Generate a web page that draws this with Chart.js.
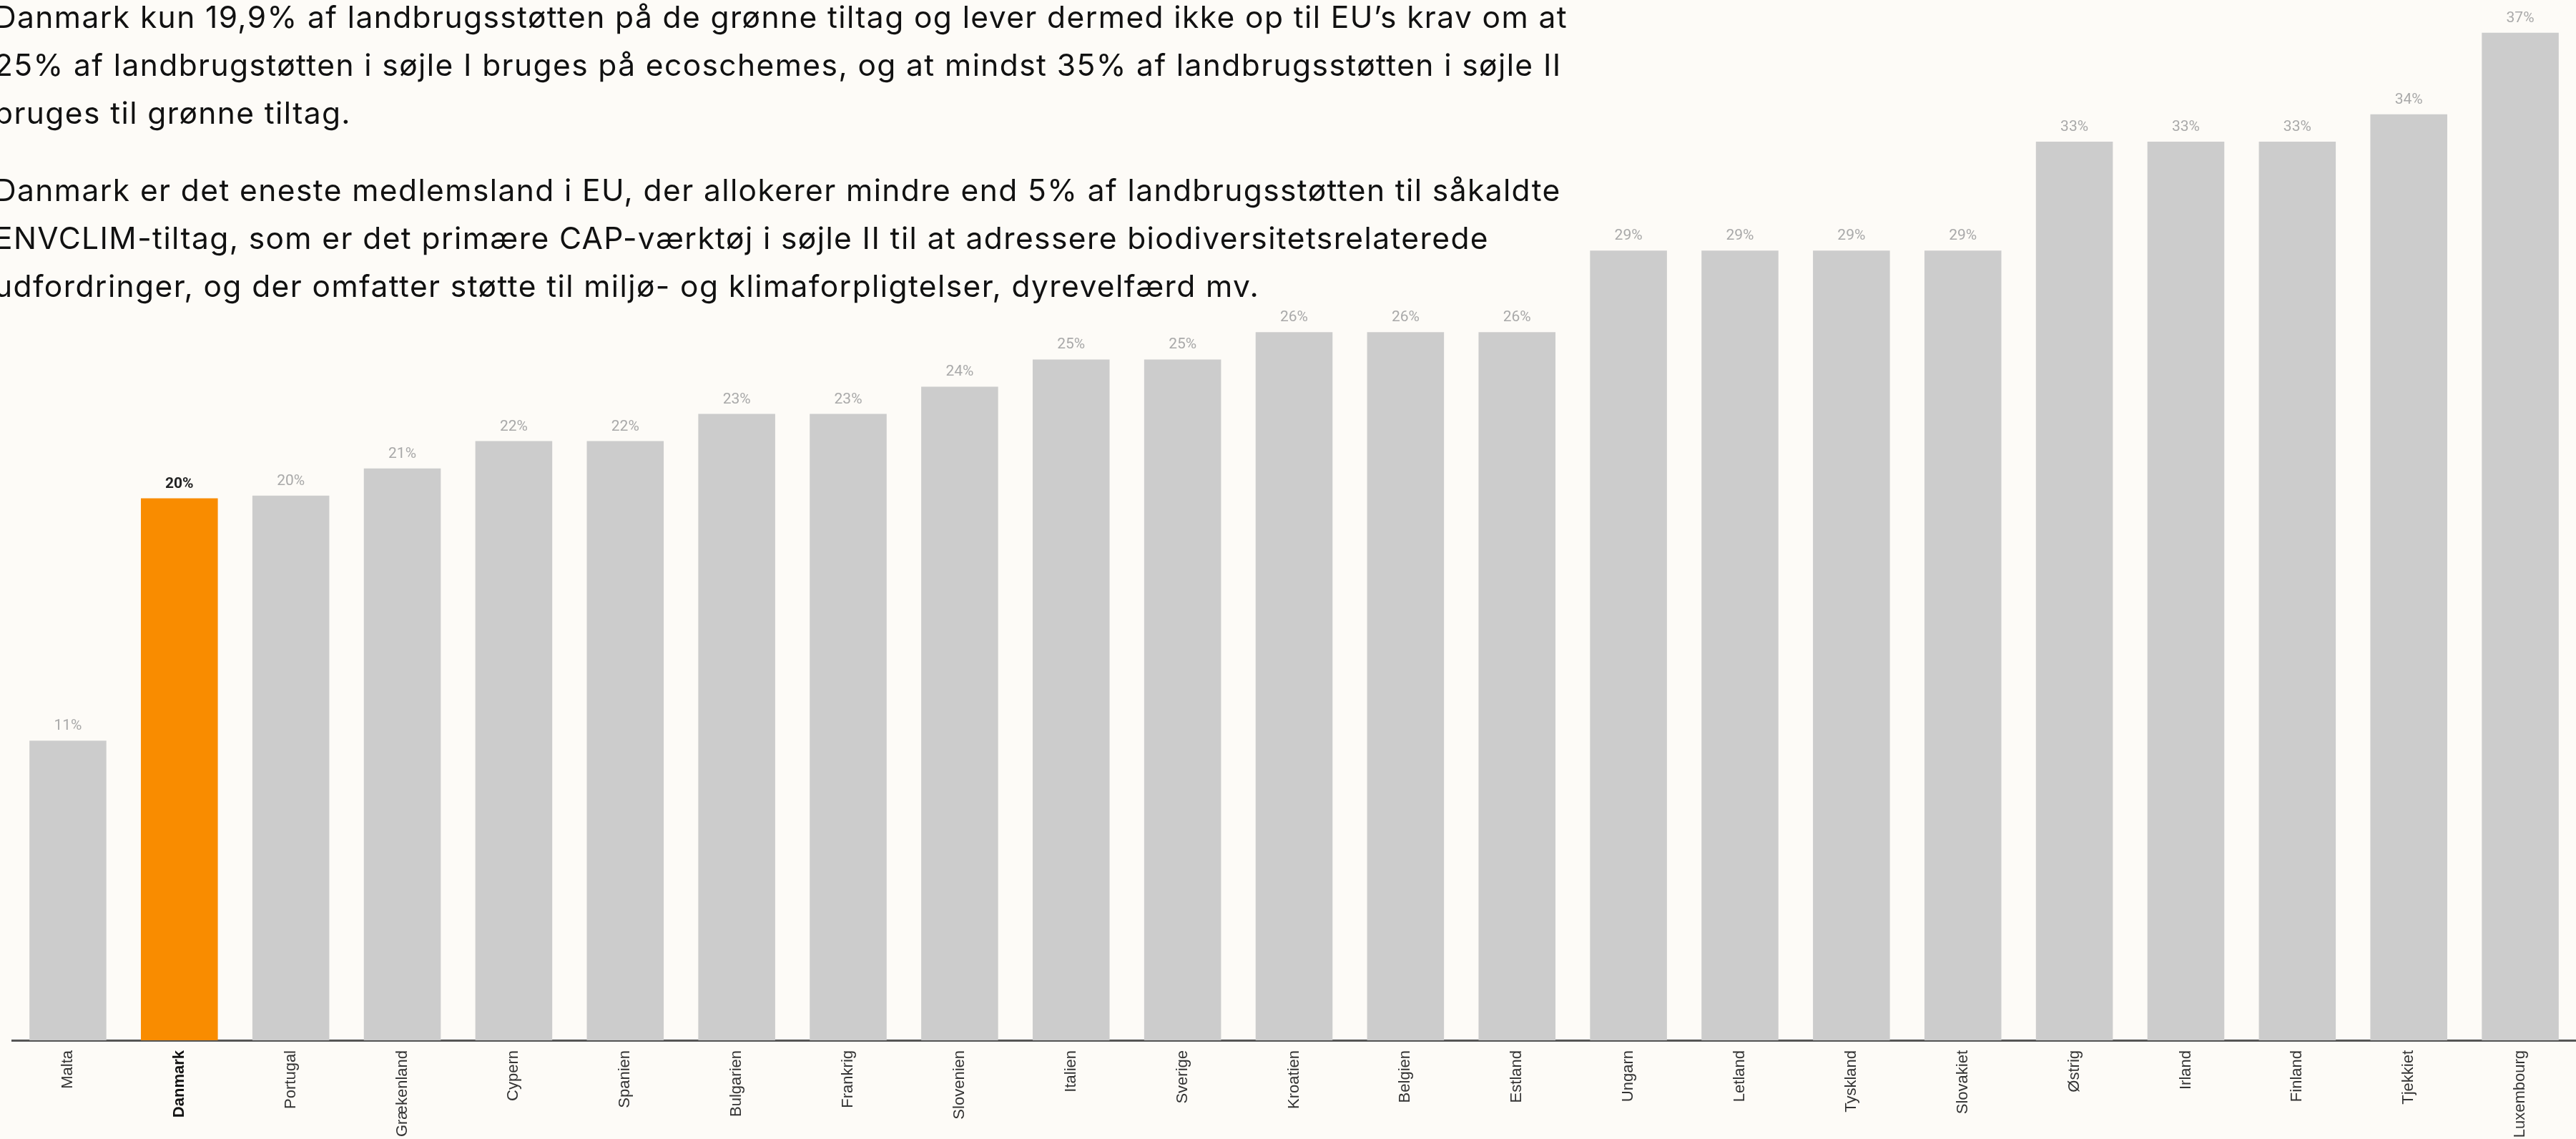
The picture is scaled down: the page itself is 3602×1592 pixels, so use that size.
<!DOCTYPE html>
<html lang="da">
<head>
<meta charset="utf-8">
<title>Landbrugsstøtte til grønne tiltag</title>
<script src="https://cdn.jsdelivr.net/npm/chart.js@4/dist/chart.umd.min.js"></script>
<style>
  html, body { margin: 0; padding: 0; background: #fdfbf7; }
  body { width: 3602px; height: 1592px; overflow: hidden; position: relative; }
  #wrap { position: absolute; left: 0; top: 0; width: 3602px; height: 1592px; }
  .intro {
    position: absolute; left: -8px; top: -10px;
    font-family: Inter, "Liberation Sans", sans-serif;
    font-size: 42.5px; line-height: 67px; color: #111;
    letter-spacing: 1.4px;
  }
  .intro p { margin: 0 0 41px 0; white-space: nowrap; }
</style>
</head>
<body>
<div id="wrap"><canvas id="chart"></canvas></div>
<div class="intro">
  <p>Danmark kun 19,9% af landbrugsstøtten på de grønne tiltag og lever dermed ikke op til EU’s krav om at<br>
  25% af landbrugstøtten i søjle I bruges på ecoschemes, og at mindst 35% af landbrugsstøtten i søjle II<br>
  bruges til grønne tiltag.</p>
  <p>Danmark er det eneste medlemsland i EU, der allokerer mindre end 5% af landbrugsstøtten til såkaldte<br>
  ENVCLIM-tiltag, som er det primære CAP-værktøj i søjle II til at adressere biodiversitetsrelaterede<br>
  udfordringer, og der omfatter støtte til miljø- og klimaforpligtelser, dyrevelfærd mv.</p>
</div>
<script>
// andel af landbrugsstøtten til grønne tiltag, pct.
const countries = ["Malta", "Danmark", "Portugal", "Grækenland", "Cypern", "Spanien",
  "Bulgarien", "Frankrig", "Slovenien", "Italien", "Sverige", "Kroatien", "Belgien",
  "Estland", "Ungarn", "Letland", "Tyskland", "Slovakiet", "Østrig", "Irland",
  "Finland", "Tjekkiet", "Luxembourg"];
const values = [11, 19.9, 20, 21, 22, 22, 23, 23, 24, 25, 25, 26, 26, 26, 29, 29, 29, 29,
  33, 33, 33, 34, 37];
const highlight = "Danmark";

const GREY = "#cccccc";
const ORANGE = "#f98c00";

const barColors = countries.map(c => c === highlight ? ORANGE : GREY);

const valueLabels = {
  id: "valueLabels",
  afterDatasetsDraw(chart) {
    const ctx = chart.ctx;
    const meta = chart.getDatasetMeta(0);
    ctx.save();
    ctx.textAlign = "center";
    ctx.textBaseline = "alphabetic";
    meta.data.forEach((bar, i) => {
      const hl = countries[i] === highlight;
      ctx.font = (hl ? "bold " : "") + "21px Roboto";
      ctx.fillStyle = hl ? "#222222" : "#a9a9a9";
      ctx.fillText(Math.round(values[i]) + "%", bar.x, bar.y - 15);
    });
    ctx.restore();
  }
};

new Chart(document.getElementById("chart"), {
  type: "bar",
  data: {
    labels: countries,
    datasets: [{
      data: values,
      backgroundColor: barColors,
      borderWidth: 0,
      barPercentage: 0.69,
      categoryPercentage: 1
    }]
  },
  options: {
    responsive: true,
    maintainAspectRatio: false,
    animation: false,
    layout: { padding: { left: 17, right: 0, top: 0, bottom: 0 } },
    plugins: { legend: { display: false }, tooltip: { enabled: false } },
    scales: {
      y: { display: false, min: 0, max: 38.2 },
      x: {
        grid: { display: true, drawOnChartArea: false, drawTicks: false },
        border: { display: true, color: "#555555", width: 3 },
        ticks: {
          minRotation: 90,
          maxRotation: 90,
          padding: 14,
          autoSkip: false,
          color: ctx => countries[ctx.index] === highlight ? "#111111" : "#333333",
          font: ctx => ({
            family: "'Liberation Sans', Arial, sans-serif",
            size: 22,
            weight: countries[ctx.index] === highlight ? "bold" : "normal"
          })
        },
        afterFit(scale) { scale.height = 138; }
      }
    }
  },
  plugins: [valueLabels]
});
</script>
</body>
</html>
